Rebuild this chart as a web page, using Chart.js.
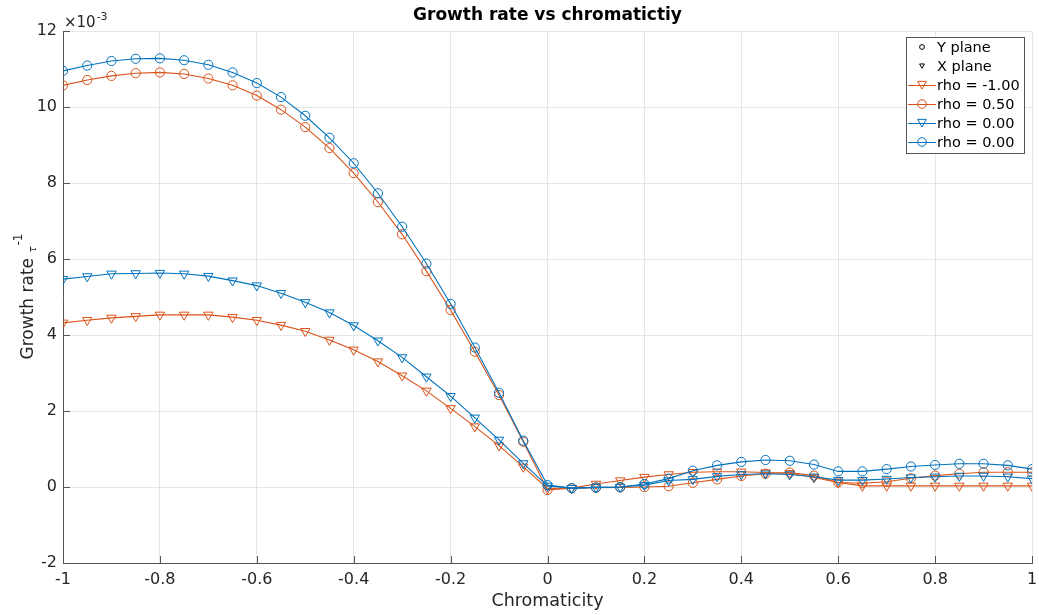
<!DOCTYPE html>
<html>
<head>
<meta charset="utf-8">
<script src="https://cdn.jsdelivr.net/npm/chart.js@4/dist/chart.umd.min.js"></script>
<style>
    body { margin: 0; background: #fff; }
    #wrap { width: 1039px; height: 615px; }
</style>
</head>
<body>
<div id="wrap"><canvas id="growthChart" width="1039" height="615"></canvas></div>
<script>
// chromaticity values (x axis)
const chroma = [-1, -0.95, -0.9, -0.85, -0.8, -0.75, -0.7, -0.65, -0.6, -0.55, -0.5, -0.45, -0.4, -0.35, -0.3, -0.25, -0.2, -0.15, -0.1, -0.05,
    0, 0.05, 0.1, 0.15, 0.2, 0.25, 0.3, 0.35, 0.4, 0.45, 0.5, 0.55, 0.6, 0.65, 0.7, 0.75, 0.8, 0.85, 0.9, 0.95, 1];

// growth rates, units of 1e-3
const rhoM100X = [4.32, 4.39, 4.45, 4.49, 4.53, 4.53, 4.53, 4.47, 4.39, 4.26, 4.1, 3.87, 3.61, 3.3, 2.93, 2.53, 2.07, 1.59, 1.09, 0.53,
    -0.04, -0.03, 0.08, 0.17, 0.26, 0.33, 0.39, 0.4, 0.4, 0.38, 0.36, 0.25, 0.12, 0.03, 0.03, 0.03, 0.03, 0.03, 0.03, 0.03, 0.03];
const rho050Y = [10.57, 10.71, 10.82, 10.89, 10.91, 10.87, 10.75, 10.57, 10.3, 9.93, 9.47, 8.92, 8.26, 7.5, 6.65, 5.68, 4.66, 3.56, 2.42, 1.19,
    -0.08, -0.03, -0.02, -0.01, 0.0, 0.02, 0.11, 0.2, 0.29, 0.35, 0.38, 0.3, 0.12, 0.1, 0.14, 0.23, 0.3, 0.35, 0.39, 0.39, 0.39];
const rho000X = [5.47, 5.54, 5.61, 5.62, 5.63, 5.61, 5.55, 5.43, 5.3, 5.1, 4.86, 4.59, 4.25, 3.85, 3.41, 2.9, 2.39, 1.82, 1.24, 0.62,
    0.03, -0.03, -0.01, 0.0, 0.05, 0.17, 0.2, 0.28, 0.33, 0.35, 0.33, 0.27, 0.18, 0.18, 0.21, 0.25, 0.27, 0.29, 0.29, 0.27, 0.22];
const rho000Y = [10.95, 11.09, 11.21, 11.27, 11.28, 11.23, 11.11, 10.91, 10.63, 10.26, 9.77, 9.19, 8.52, 7.73, 6.85, 5.88, 4.82, 3.67, 2.48, 1.22,
    0.05, -0.03, -0.01, 0.0, 0.08, 0.22, 0.43, 0.57, 0.66, 0.71, 0.69, 0.59, 0.41, 0.41, 0.47, 0.54, 0.58, 0.61, 0.61, 0.57, 0.47];

const xTicks = [-1, -0.8, -0.6, -0.4, -0.2, 0, 0.2, 0.4, 0.6, 0.8, 1];
const yTicks = [-2, 0, 2, 4, 6, 8, 10, 12];

const ORANGE = '#D95319';
const BLUE = '#0072BD';
const TXT = '#262626';
const FONT = '"DejaVu Sans", sans-serif';

function toPoints(ys) {
    return chroma.map((x, i) => ({x: x, y: ys[i]}));
}

const seriesInfo = [
    {label: 'rho = -1.00', data: rhoM100X, color: ORANGE, marker: 'triangle', order: 4},
    {label: 'rho = 0.50', data: rho050Y, color: ORANGE, marker: 'circle', order: 3},
    {label: 'rho = 0.00', data: rho000X, color: BLUE, marker: 'triangle', order: 2},
    {label: 'rho = 0.00', data: rho000Y, color: BLUE, marker: 'circle', order: 1}
];

// draw a matlab-like marker
function drawMarker(ctx, type, x, y, r, color) {
    ctx.save();
    ctx.strokeStyle = color;
    ctx.lineWidth = 1;
    ctx.beginPath();
    if (type === 'circle') {
        ctx.arc(x, y, r, 0, Math.PI * 2);
    } else {
        ctx.moveTo(x - r, y - r * 0.85);
        ctx.lineTo(x + r, y - r * 0.85);
        ctx.lineTo(x, y + r * 0.95);
        ctx.closePath();
    }
    ctx.stroke();
    ctx.restore();
}

// texts, inward ticks and legend
const decoPlugin = {
    id: 'deco',
    afterDraw(chart) {
        const ctx = chart.ctx;
        const area = chart.chartArea;
        const xs = chart.scales.x, ys = chart.scales.y;

        // inward ticks
        ctx.save();
        ctx.strokeStyle = '#555';
        ctx.lineWidth = 1;
        ctx.beginPath();
        xTicks.forEach(v => {
            const px = Math.round(xs.getPixelForValue(v)) + 0.5;
            ctx.moveTo(px, area.bottom);
            ctx.lineTo(px, area.bottom - 7);
        });
        yTicks.forEach(v => {
            const py = Math.round(ys.getPixelForValue(v)) + 0.5;
            ctx.moveTo(area.left, py);
            ctx.lineTo(area.left + 7, py);
        });
        ctx.stroke();
        ctx.restore();

        // title
        ctx.save();
        ctx.fillStyle = '#000';
        ctx.font = 'bold 17px ' + FONT;
        ctx.textAlign = 'center';
        ctx.textBaseline = 'middle';
        ctx.fillText('Growth rate vs chromatictiy', (area.left + area.right) / 2, 16);

        // exponent
        ctx.fillStyle = TXT;
        ctx.textAlign = 'left';
        ctx.textBaseline = 'alphabetic';
        ctx.font = '15px ' + FONT;
        ctx.fillText('×10', 64, 27);
        const w10 = ctx.measureText('×10').width;
        ctx.font = '11px ' + FONT;
        ctx.fillText('-3', 64 + w10 + 1, 20);

        // y label with tau
        ctx.translate(27, (area.top + area.bottom) / 2);
        ctx.rotate(-Math.PI / 2);
        ctx.font = '17px ' + FONT;
        const main = 'Growth rate ';
        const wMain = ctx.measureText(main).width;
        ctx.font = 'italic 10px ' + FONT;
        const wTau = ctx.measureText('τ').width;
        ctx.font = '12px ' + FONT;
        const wExp = ctx.measureText('-1').width;
        let start = -(wMain + wTau + wExp) / 2;
        ctx.font = '17px ' + FONT;
        ctx.fillText(main, start, 6);
        ctx.font = 'italic 10px ' + FONT;
        ctx.fillText('τ', start + wMain, 9);
        ctx.font = '12px ' + FONT;
        ctx.fillText('-1', start + wMain + wTau + 1, -5);
        ctx.restore();

        // legend box
        const lx = 906, ly = 37, lw = 118, lh = 116;
        ctx.save();
        ctx.fillStyle = '#fff';
        ctx.fillRect(lx, ly, lw, lh);
        ctx.strokeStyle = '#555';
        ctx.lineWidth = 1;
        ctx.strokeRect(lx + 0.5, ly + 0.5, lw, lh);
        ctx.font = '14.5px ' + FONT;
        ctx.fillStyle = '#000';
        ctx.textBaseline = 'middle';
        const rows = [
            {label: 'Y plane', color: '#000', marker: 'circle', line: false},
            {label: 'X plane', color: '#000', marker: 'triangle', line: false}
        ].concat(seriesInfo.map(s => ({label: s.label, color: s.color, marker: s.marker, line: true})));
        rows.forEach((r, i) => {
            const cy = ly + 10 + i * 19;
            if (r.line) {
                ctx.strokeStyle = r.color;
                ctx.beginPath();
                ctx.moveTo(908, cy + 0.5);
                ctx.lineTo(936, cy + 0.5);
                ctx.stroke();
                drawMarker(ctx, r.marker, 922, cy, 4.3, r.color);
            } else {
                drawMarker(ctx, r.marker, 922, cy, 2.4, r.color);
            }
            ctx.fillStyle = '#000';
            ctx.fillText(r.label, 937, cy + 1);
        });
        ctx.restore();
    }
};

const datasets = seriesInfo.map(s => ({
    label: s.label,
    data: toPoints(s.data),
    borderColor: s.color,
    borderWidth: 1.1,
    pointStyle: s.marker,
    pointRotation: s.marker === 'triangle' ? 180 : 0,
    pointRadius: s.marker === 'triangle' ? 5.4 : 4.6,
    pointBorderWidth: 1,
    pointBorderColor: s.color,
    pointBackgroundColor: 'rgba(0,0,0,0)',
    fill: false,
    tension: 0,
    order: s.order
}));

const ctx = document.getElementById('growthChart').getContext('2d');
window.growthChart = new Chart(ctx, {
    type: 'line',
    data: {datasets: datasets},
    options: {
        responsive: false,
        animation: false,
        devicePixelRatio: 1,
        layout: {
            padding: {top: 31, right: 7, left: 0, bottom: 0}
        },
        plugins: {
            legend: {display: false},
            tooltip: {enabled: false}
        },
        scales: {
            x: {
                type: 'linear',
                min: -1,
                max: 1,
                afterBuildTicks: axis => { axis.ticks = xTicks.map(v => ({value: v})); },
                afterFit: axis => {
                    axis.height = 52;
                    axis.paddingLeft = 0;
                    axis.paddingRight = 0;
                },
                ticks: {
                    color: TXT,
                    font: {family: FONT, size: 16},
                    padding: 7,
                    maxRotation: 0,
                    callback: v => String(Number(v.toFixed(1)))
                },
                grid: {color: '#e6e6e6', drawTicks: false},
                border: {color: '#555', width: 1},
                title: {
                    display: true,
                    text: 'Chromaticity',
                    color: TXT,
                    font: {family: FONT, size: 17.5},
                    padding: {top: 0, bottom: 3}
                }
            },
            y: {
                min: -2,
                max: 12,
                afterBuildTicks: axis => { axis.ticks = yTicks.map(v => ({value: v})); },
                afterFit: axis => {
                    axis.width = 63;
                    axis.paddingTop = 0;
                    axis.paddingBottom = 0;
                },
                ticks: {
                    color: TXT,
                    font: {family: FONT, size: 16},
                    padding: 6
                },
                grid: {color: '#e6e6e6', drawTicks: false},
                border: {color: '#555', width: 1}
            }
        }
    },
    plugins: [decoPlugin]
});
</script>
</body>
</html>
